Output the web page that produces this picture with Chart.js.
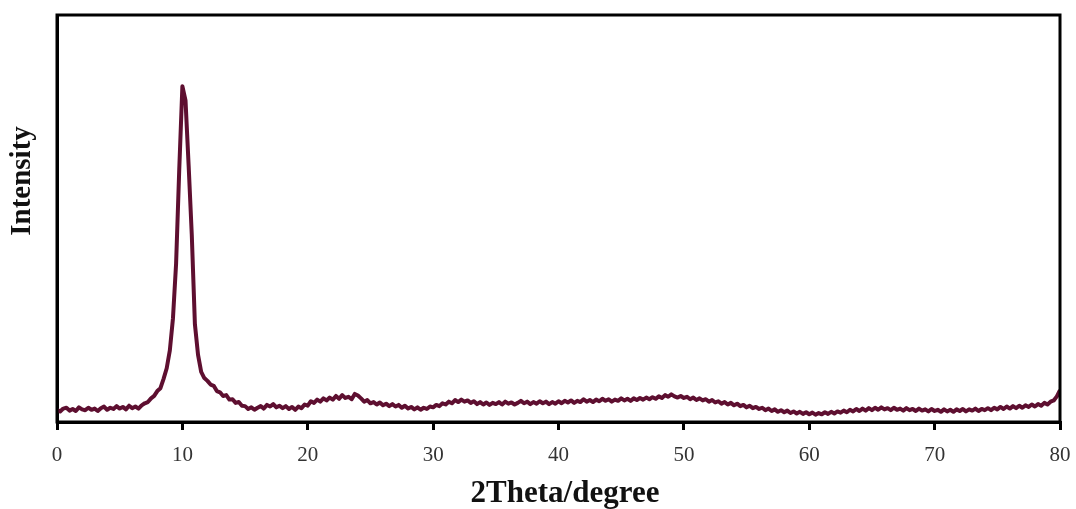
<!DOCTYPE html>
<html>
<head>
<meta charset="utf-8">
<title>XRD pattern</title>
<script src="https://cdn.jsdelivr.net/npm/chart.js@4.4.1/dist/chart.umd.min.js"></script>
<style>
  body { margin: 0; background: #fff; }
  #xrd { display: block; }
</style>
</head>
<body>
<canvas id="xrd" width="1076" height="509"></canvas>
<script>
// scan settings (degrees 2theta)
const scanStart = 0;
const scanStep = 0.25;

// x axis ticks
const angleTicks = [0, 10, 20, 30, 40, 50, 60, 70, 80];

// intensity, arbitrary units (0 = axis, 100 = top of frame)
// one row per 2 degrees
const intensity = [
  3.0, 2.6, 3.3, 3.5, 2.8, 3.2, 2.7, 3.6,        // 0 - 1.75
  3.1, 2.9, 3.5, 3.0, 3.3, 2.7, 3.4, 3.8,        // 2 - 3.75
  3.0, 3.5, 3.2, 3.9, 3.3, 3.7, 3.1, 4.0,        // 4 - 5.75
  3.4, 3.8, 3.3, 4.1, 4.6, 4.9, 5.8, 6.4,        // 6 - 7.75
  7.6, 8.3, 10.6, 13.2, 17.6, 25.5, 39, 62,      // 8 - 9.75
  82.5, 79, 63, 46, 24, 16.5, 12.3, 10.8,        // 10 - 11.75
  10.1, 9.2, 8.9, 7.6, 7.3, 6.4, 6.6, 5.5,       // 12 - 13.75
  5.6, 4.7, 4.9, 4.0, 3.9, 3.2, 3.6, 3.0,        // 14 - 15.75
  3.5, 3.9, 3.3, 4.2, 3.8, 4.4, 3.6, 4.0,        // 16 - 17.75
  3.4, 3.9, 3.2, 3.7, 3.0, 3.8, 3.4, 4.3,        // 18 - 19.75
  4.0, 5.1, 4.7, 5.5, 5.0, 5.8, 5.3, 6.0,        // 20 - 21.75
  5.5, 6.4, 5.7, 6.6, 5.9, 6.2, 5.6, 6.9,        // 22 - 23.75
  6.5, 5.8, 5.0, 5.4, 4.6, 4.9, 4.3, 4.8,        // 24 - 25.75
  4.1, 4.5, 3.9, 4.4, 3.8, 4.2, 3.5, 4.0,        // 26 - 27.75
  3.3, 3.7, 3.1, 3.6, 3.0, 3.5, 3.2, 3.8,        // 28 - 29.75
  3.6, 4.2, 3.9, 4.6, 4.3, 5.0, 4.6, 5.4,        // 30 - 31.75
  4.9, 5.5, 5.0, 5.3, 4.7, 5.1, 4.4, 4.9,        // 32 - 33.75
  4.3, 4.8, 4.2, 4.7, 4.4, 4.9, 4.3, 5.0,        // 34 - 35.75
  4.5, 4.8, 4.3, 4.7, 5.2, 4.6, 5.0, 4.4,        // 36 - 37.75
  4.9, 4.5, 5.1, 4.6, 5.0, 4.4, 4.9, 4.5,        // 38 - 39.75
  5.1, 4.6, 5.2, 4.8, 5.3, 4.7, 5.2, 4.9,        // 40 - 41.75
  5.6, 5.0, 5.4, 4.9, 5.5, 5.1, 5.7, 5.2,        // 42 - 43.75
  5.6, 5.0, 5.5, 5.2, 5.8, 5.3, 5.7, 5.2,        // 44 - 45.75
  5.8, 5.4, 5.9, 5.5, 6.0, 5.6, 6.1, 5.7,        // 46 - 47.75
  6.3, 5.9, 6.6, 6.2, 6.8, 6.3, 6.0, 6.4,        // 48 - 49.75
  5.9, 6.2, 5.6, 6.0, 5.4, 5.8, 5.3, 5.6,        // 50 - 51.75
  5.0, 5.4, 4.8, 5.1, 4.5, 4.9, 4.3, 4.7,        // 52 - 53.75
  4.1, 4.5, 3.9, 4.2, 3.6, 4.0, 3.4, 3.7,        // 54 - 55.75
  3.2, 3.5, 2.9, 3.3, 2.7, 3.1, 2.5, 2.9,        // 56 - 57.75
  2.4, 2.8, 2.2, 2.6, 2.1, 2.5, 2.0, 2.4,        // 58 - 59.75
  1.9, 2.3, 1.8, 2.2, 1.9, 2.4, 2.0, 2.5,        // 60 - 61.75
  2.1, 2.6, 2.3, 2.8, 2.4, 3.0, 2.6, 3.2,        // 62 - 63.75
  2.7, 3.3, 2.8, 3.4, 2.9, 3.5, 3.0, 3.6,        // 64 - 65.75
  3.1, 3.4, 2.9, 3.5, 3.0, 3.3, 2.8, 3.4,        // 66 - 67.75
  2.9, 3.2, 2.7, 3.3, 2.8, 3.1, 2.6, 3.2,        // 68 - 69.75
  2.7, 3.0, 2.5, 3.1, 2.6, 3.0, 2.5, 3.1,        // 70 - 71.75
  2.7, 3.2, 2.6, 3.1, 2.8, 3.3, 2.7, 3.2,        // 72 - 73.75
  2.9, 3.4, 2.9, 3.5, 3.1, 3.7, 3.2, 3.8,        // 74 - 75.75
  3.3, 3.9, 3.4, 4.0, 3.5, 4.1, 3.7, 4.3,        // 76 - 77.75
  3.8, 4.4, 4.0, 4.7, 4.3, 5.0, 5.3, 6.3,        // 78 - 79.75
  7.8                                             // 80
];

const lineColor = '#5e0f30';
const serif = "'Liberation Serif', 'Times New Roman', serif";

const points = intensity.map((v, i) => ({ x: scanStart + i * scanStep, y: v }));

// frame round the plot area + the two axis titles
const framePlugin = {
  id: 'frame',
  afterDraw(chart) {
    const { ctx, chartArea: a } = chart;
    ctx.save();
    ctx.strokeStyle = '#000';
    ctx.lineWidth = 3;
    ctx.strokeRect(a.left, a.top, a.right - a.left, a.bottom - a.top);

    ctx.fillStyle = '#111';
    ctx.textAlign = 'center';
    ctx.textBaseline = 'middle';
    ctx.font = 'bold 31px ' + serif;
    ctx.fillText('2Theta/degree', 565, 494);

    ctx.translate(23, 181);
    ctx.rotate(-Math.PI / 2);
    ctx.font = 'bold 29px ' + serif;
    ctx.fillText('Intensity', 0, 0);
    ctx.restore();
  }
};

new Chart(document.getElementById('xrd'), {
  type: 'line',
  data: {
    datasets: [{
      label: 'XRD',
      data: points,
      borderColor: lineColor,
      borderWidth: 4,
      borderJoinStyle: 'round',
      pointRadius: 0,
      tension: 0,
      fill: false
    }]
  },
  options: {
    responsive: false,
    animation: false,
    layout: { padding: { top: 15, right: 16, left: 0, bottom: 0 } },
    plugins: {
      legend: { display: false },
      tooltip: { enabled: false }
    },
    scales: {
      x: {
        type: 'linear',
        min: 0,
        max: 80,
        afterFit: (scale) => {
          scale.height = 87;
          scale.paddingLeft = 0;
          scale.paddingRight = 0;
        },
        afterBuildTicks: (scale) => { scale.ticks = angleTicks.map(v => ({ value: v })); },
        ticks: {
          color: '#333',
          padding: 13,
          font: { family: serif, size: 21 }
        },
        grid: {
          drawOnChartArea: false,
          drawTicks: true,
          tickLength: 8,
          lineWidth: 3,
          color: '#000'
        },
        border: { display: true, color: '#000', width: 3 }
      },
      y: {
        min: 0,
        max: 100,
        afterFit: (scale) => { scale.width = 57; },
        ticks: { display: false },
        grid: { display: false },
        border: { display: true, color: '#000', width: 3 }
      }
    }
  },
  plugins: [framePlugin]
});
</script>
</body>
</html>
